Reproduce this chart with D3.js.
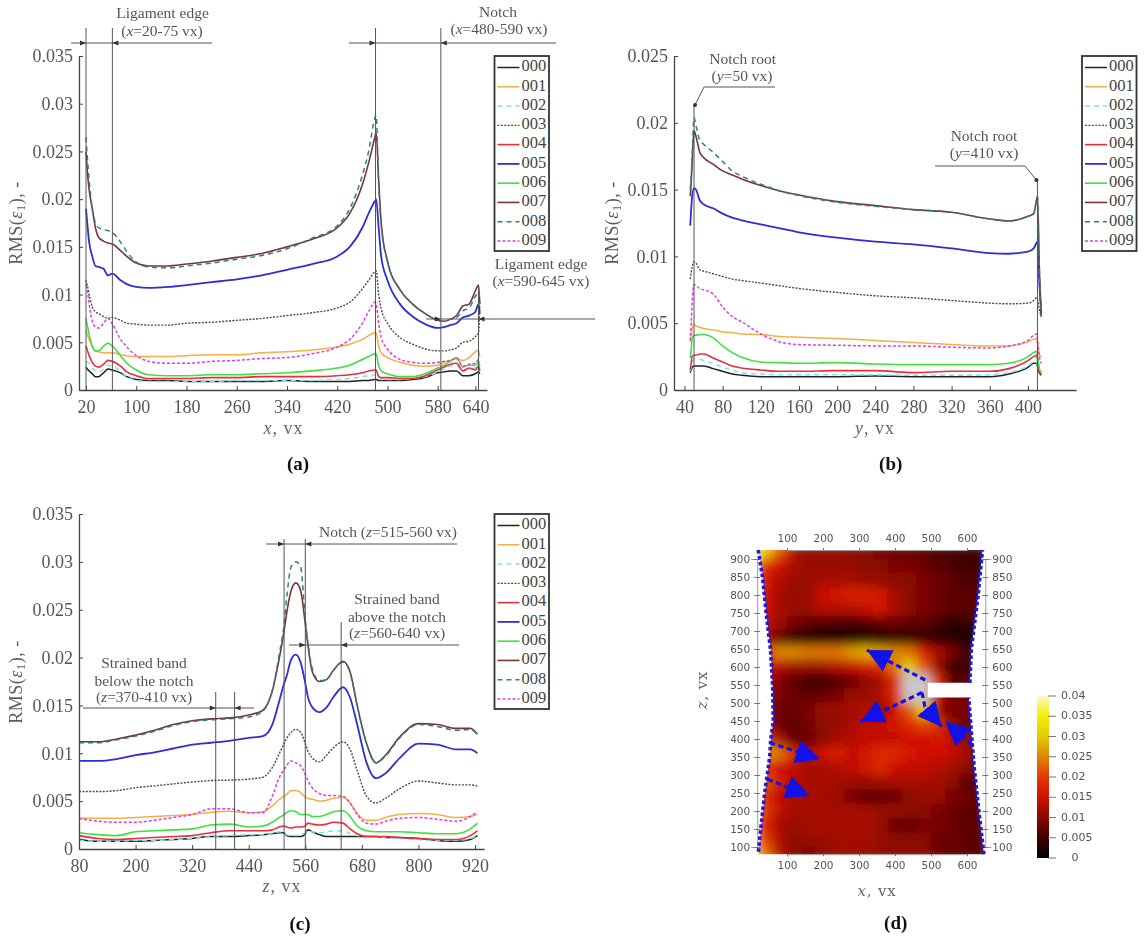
<!DOCTYPE html>
<html><head><meta charset="utf-8">
<script src="https://cdn.jsdelivr.net/npm/d3@7"></script>
<style>
html,body{margin:0;padding:0;background:#fff}
svg{display:block;filter:blur(0.6px)}
text{font-family:"Liberation Serif",serif;fill:#555}
</style></head><body>
<svg id="c" width="1148" height="940"></svg>
<script>
// strain values are stored in units of 1e-3
const seriesNames=["000","001","002","003","004","005","006","007","008","009"];
const seriesColors=["#222222","#f6ae45","#7fe3ea","#4a4a4a","#ee2c3c","#2e2ed6","#3fe03f","#7a3434","#2f7f7f","#e23ce2"];
const seriesDash=[null,null,"5 4","2 1.4",null,null,null,null,"5 4","3 2"];
const seriesWidth=[1.5,1.5,1.5,1.4,1.6,1.8,1.6,1.6,1.5,1.5];

const xA=[20,22,25,30,35,40,48,55,62,75,85,100,120,150,180,220,260,300,340,380,420,440,460,470,480,482,486,490,500,520,540,560,580,590,600,610,620,630,640,645,647];
const a000=[2.4,2.2,2,1.7,1.4,1.4,1.8,2.2,2.1,1.8,1.4,1.1,1,1,.9,.9,.9,.9,1,.9,.9,.9,1,1,1.1,1.1,1,1,1,1,1.1,1.3,1.8,1.9,2,2,1.5,1.5,1.7,1.9,1.7];
const a001=[6.2,5.8,5.3,4.5,4.1,4,3.9,3.9,3.9,3.7,3.6,3.5,3.5,3.5,3.6,3.7,3.7,3.9,4,4.2,4.5,4.8,5.3,5.7,6,6,4.6,3.9,3.4,2.9,2.6,2.5,2.6,2.9,3.1,3.3,3.1,3.4,4,4.2,3.5];
const a002=[3,2.9,2.8,2.3,2,1.9,2.2,2.6,2.5,2,1.4,1,.9,.9,.9,.9,1,1,1,1,1.1,1.2,1.4,1.5,1.6,1.6,1.2,1.1,1.1,1.1,1.2,1.4,1.9,2.2,2.5,2.6,2,2.2,2.3,2.6,2.2];
const a003=[11.5,11,10,8.7,8.2,8,7.7,7.5,7.6,7.3,7,6.9,6.8,6.8,7,7.1,7.3,7.5,7.8,8.1,8.6,9.2,10.6,11.5,12.4,12.5,10,8.5,7,5.5,4.8,4.3,4.1,4.1,4.2,4.4,5,5.1,5.6,6,9];
const a004=[4.6,4.2,3.6,2.9,2.5,2.4,2.7,3.1,3,2.5,1.9,1.5,1.2,1.2,1.2,1.3,1.3,1.4,1.4,1.4,1.5,1.6,1.8,2,2.1,2.1,1.4,1.3,1.3,1.2,1.2,1.5,2.1,2.4,2.7,2.8,2,2.3,2.1,2.5,2];
const a005=[19,17.5,15.5,14,13,12.9,12.7,12,12.2,11.5,11.1,10.8,10.7,10.8,11,11.3,11.6,12,12.6,13.2,14,15,17,18.5,19.8,20,17,14,11.5,9,7.7,6.9,6.5,6.6,6.8,7,7.6,7.8,8.2,9,8];
const a006=[7.5,6.8,5.8,4.6,4.1,4.1,4.6,4.9,4.6,3.6,2.8,2.1,1.6,1.5,1.5,1.6,1.6,1.7,1.8,2,2.3,2.6,3.2,3.5,3.8,3.8,2.5,2,1.7,1.4,1.4,1.7,2.3,2.6,3,3.4,2.4,2.6,2.6,3,2.5];
const a007=[25,23,21,19,17,16,15.6,15.4,15.3,14.6,14,13.3,13,13,13.2,13.5,13.9,14.3,15,15.8,17,18.5,21.5,23.8,26.5,27,22,17.5,13.5,10.5,9,8,7.3,7.2,7.4,7.8,8.8,9,10.4,11,9];
const a008=[26.5,24.5,22,19,17.5,17,16.8,16.7,16.5,15.5,14.5,13.4,12.9,12.8,13,13.3,13.7,14.1,14.8,15.9,17.2,19,22.5,25,28.5,28.8,21.5,17.3,13.5,10.5,9,8,7.3,7.2,7.4,7.6,8.3,8.6,9.8,10.3,9];
const a009=[11,10.5,9,7.2,6.6,6.5,7,7.5,6.9,5.3,4.5,3.6,3,2.8,2.8,3,3.1,3.3,3.4,3.8,4.5,5.3,7,8.2,9.2,9,7,5.5,4.3,3.2,2.9,2.8,2.9,3,3.1,3.3,2.5,2.7,2.8,3.2,3];

const xB=[46,47,48,50,52,56,60,70,80,90,100,120,140,160,200,240,280,320,360,380,400,406,409,410,412,414];
const b000=[1.3,1.5,1.7,1.8,1.8,1.8,1.8,1.6,1.4,1.2,1.1,1,1,1,1,1.05,1,1,1,1.2,1.7,2,2,1.8,1.3,1.1];
const b001=[3.6,4,4.5,4.9,4.8,4.7,4.6,4.5,4.35,4.3,4.2,4.15,4,3.95,3.85,3.7,3.55,3.4,3.3,3.3,3.6,3.8,3.8,3.5,2.6,2.5];
const b002=[1.4,1.7,2,2.3,2.3,2.3,2.2,2,1.7,1.5,1.3,1.2,1.15,1.15,1.15,1.15,1.1,1.1,1.15,1.3,1.8,2.1,2.1,1.9,1.5,1.3];
const b003=[8.3,8.8,9.2,9.6,9.5,9,8.9,8.7,8.5,8.3,8.2,8,7.8,7.6,7.3,7.05,6.9,6.7,6.5,6.45,6.5,6.7,6.9,6.8,6,5.5];
const b004=[1.5,2,2.5,2.6,2.6,2.7,2.7,2.4,2.1,1.8,1.65,1.5,1.4,1.4,1.45,1.45,1.3,1.4,1.4,1.6,2.2,2.5,2.6,2.3,1.4,1.2];
const b005=[12.3,13.5,14.5,15.1,15,14.2,13.9,13.6,13.2,12.9,12.7,12.4,12.1,11.8,11.4,11.1,10.9,10.6,10.25,10.2,10.35,10.6,11,11.1,8,5.8];
const b006=[2.4,3,3.8,4.1,4.1,4.15,4.15,3.9,3.3,2.8,2.45,2.1,2.05,2,2.05,1.95,1.9,1.9,1.9,2,2.5,2.8,2.9,2.6,1.6,1.3];
const b007=[14.5,15.5,17,19.4,19,17.8,17.4,16.9,16.4,16.1,15.8,15.3,14.9,14.6,14.1,13.8,13.5,13.3,12.8,12.65,13,13.2,14.2,14.5,9,5.5];
const b008=[15,16,17.5,20.4,19.8,18.7,18.4,17.8,17.1,16.4,16,15.4,14.9,14.55,14.05,13.75,13.5,13.3,12.8,12.65,13,13.2,14.2,14.5,9,5.5];
const b009=[3.7,5,6.5,7.9,7.8,7.6,7.5,7.2,6.2,5.5,5.1,4.2,3.6,3.4,3.35,3.3,3.3,3.2,3.15,3.3,3.7,4.1,4.2,3.8,2.5,2];

const xC=[80,120,160,200,240,280,320,360,400,440,470,490,505,515,520,530,540,550,560,565,575,590,605,620,640,655,670,690,710,730,760,800,840,880,910,925];
const c000=[1,.8,.8,.8,.9,1,1.1,1.3,1.3,1.4,1.5,1.6,1.7,1.7,1.4,1.3,1.3,1.3,1.6,2,1.8,1.5,1.3,1.3,1.3,1.3,1.3,1.3,1.3,1.2,1.2,1.1,.9,.8,1,1.4];
const c001=[3.2,3.2,3.2,3.3,3.4,3.5,3.6,3.85,3.95,3.8,3.9,4.5,5.2,5.5,5.7,6.1,6.1,5.9,5.4,5.3,5.2,5,5.1,5.3,5.4,4.8,3.7,3,3,3.3,3.6,3.7,3.6,3.3,3.4,3.6];
const c002=[.9,.8,.8,.9,.9,1,1.1,1.3,1.4,1.5,1.5,1.6,1.8,1.7,1.5,1.4,1.4,1.5,1.7,1.9,1.8,1.7,1.8,1.9,1.9,1.6,1.4,1.3,1.3,1.2,1.1,1,.9,.9,1.1,1.4];
const c003=[6,6,6.1,6.4,6.6,6.8,7,7.15,7.2,7.3,7.5,8.5,10,11,11.5,12.2,12.5,12.2,11,10.3,9.5,9.1,9.8,10.6,11.2,10.4,8.2,5.5,4.8,5.3,6.3,7.1,6.9,6.7,6.7,6.6];
const c004=[1.4,1.1,1,1.1,1.2,1.3,1.4,1.7,1.9,1.9,1.9,2,2.3,2.4,2.3,2.2,2.3,2.3,2.4,2.7,2.6,2.5,2.6,2.8,2.7,2.1,1.6,1.3,1.3,1.3,1.2,1.1,1,1,1.4,1.9];
const c005=[9.2,9.2,9.4,9.8,10.1,10.5,10.9,11.1,11.3,11.6,11.8,13,15.5,17.3,18,19.8,20.3,19.5,17.3,16,14.8,14.3,14.8,15.9,16.9,15.8,13,9,7.4,7.9,9.5,11,10.9,10.4,10.4,10];
const c006=[1.7,1.5,1.4,1.8,1.9,2,2.1,2.5,2.6,2.3,2.4,2.8,3.3,3.6,3.8,4,3.9,3.6,3.6,3.6,3.4,3.4,3.6,3.9,4,3.4,2.4,1.9,1.8,1.8,1.8,1.7,1.6,1.6,2.1,2.7];
const c007=[11.2,11.2,11.5,11.9,12.4,13,13.4,13.6,13.7,14,14.5,16.5,20,22.8,24.5,27,27.8,27,23.5,21.5,18.5,17.5,17.7,18.7,19.6,18.5,15,11,9,9.8,11.7,13.1,13,12.6,12.6,12];
const c008=[11.1,11.1,11.4,11.8,12.3,12.9,13.3,13.5,13.6,13.8,14.4,16.6,20.4,23.5,26,29.5,30,29.5,24,21.8,18.8,17.6,17.7,18.7,19.5,18.4,15,11,9,9.7,11.6,13,12.8,12.4,12.5,12];
const c009=[3.2,2.9,2.8,2.8,3,3.3,3.6,4.2,4.2,3.8,3.8,5.5,7.5,8.3,8.7,9.2,9,8.7,7.8,7.2,6.4,5.8,5.6,5.6,5.5,4.8,3.6,2.7,2.6,2.9,3.2,3.3,3.1,2.9,3.4,3.9];

const yTicksA=[0,5,10,15,20,25,30,35];
const yTicksB=[0,5,10,15,20,25];
const xTicksA=[20,100,180,260,340,420,500,580,640];
const xTicksB=[40,80,120,160,200,240,280,320,360,400];
const xTicksC=[80,200,320,440,560,680,800,920];

// map (d): columns are x vx, rows are z vx, values in 1e-3
const mapCols=[40,80,120,160,200,240,280,320,360,400,440,480,520,560,600,640];
const mapRows=[920,880,840,800,760,720,680,640,600,560,520,480,440,400,360,320,280,240,200,160,120,80];
const mapValues=[
[30,22,13,11,11,11,10,10,9,8,8,7,6,6,5,5],
[18,15,12,11,11,11,11,10,10,9,9,8,7,6,5,5],
[16,13,11,11,12,12,12,11,11,10,10,9,8,7,6,6],
[15,12,11,11,15,16,17,17,16,12,10,9,8,7,7,7],
[15,12,11,11,13,13,13,14,16,12,10,9,8,7,7,7],
[14,11,9,7,6,5,5,6,7,8,7,7,5,3,4,6],
[13,7,2,2,2,2,2,2,2,3,3,4,3,3,2,3],
[19,25,25,24,24,24,26,28,26,25,24,17,12,9,5,9],
[16,13,11,11,11,13,14,16,18,24,30,22,11,4,5,7],
[15,9,7,5,5,6,8,10,12,18,42,45,18,7,7,7],
[13,9,8,7,8,9,11,11,13,18,42,45,14,9,9,9],
[12,8,8,9,11,11,12,13,10,15,22,30,11,9,9,8],
[13,8,7,9,10,11,12,14,14,16,18,21,19,10,8,8],
[20,12,7,8,10,12,13,14,14,14,15,15,16,14,10,15],
[26,24,17,13,15,17,14,16,18,18,16,15,15,14,12,9],
[18,15,14,12,12,13,14,16,18,15,14,14,13,12,10,8],
[22,16,13,12,12,12,11,11,12,12,12,12,12,10,7,7],
[18,14,12,12,12,11,9,7,7,8,10,11,11,9,8,8],
[20,14,12,12,12,12,12,12,11,11,10,10,9,8,7,7],
[17,12,11,12,12,12,12,12,11,8,7,9,9,8,7,7],
[20,13,10,11,11,12,12,12,11,10,10,10,8,8,7,7],
[24,13,10,9,10,11,11,11,10,10,10,10,8,7,7,6]];
const colorStops=[0,5,10,15,20,25,30,35,40];
const colorValues=["#000000","#3f0000","#8a0800","#d01000","#e23a00","#dd8800","#e3cc00","#eef000","#fff8c8"];
const leftEdge=[[20,925],[32,850],[42,750],[54,650],[60,550],[62,450],[55,400],[52,350],[38,250],[27,150],[20,80]];
const rightLower=[[647,80],[633,200],[620,320],[612,420],[605,515]];
const rightUpper=[[608,556],[612,650],[631,800],[643,925]];
const notchTip=[[491,515],[491,556]];
const blueArrows=[
[[484,564],[322,647]],
[[475,529],[304,448]],
[[475,529],[483,490],[530,434]],
[[614,384],[540,448]],
[[52,390],[191,344]],
[[46,288],[163,242]]];
const mapTicksX=[100,200,300,400,500,600];
const mapTicksZ=[100,150,200,250,300,350,400,450,500,550,600,650,700,750,800,850,900];
const barTicks=[0,5,10,15,20,25,30,35,40];

const svg=d3.select("#c");
const defs=svg.append("defs");
const ink="#555";

function rich(sel,parts){
  parts.forEach(p=>{
    const t=sel.append("tspan").text(p[0]);
    if(p[1]==="i")t.attr("font-style","italic");
    if(p[1]==="s")t.attr("dy",4).attr("font-size","0.7em");
    if(p[1]==="u")t.attr("dy",-4);
  });
}
function txt(x,y,parts,size,opts={}){
  const t=svg.append("text").attr("x",x).attr("y",y).attr("font-size",size)
    .attr("text-anchor",opts.anchor||"middle").attr("dominant-baseline","middle");
  if(opts.rot!=null)t.attr("transform",`rotate(${opts.rot} ${x} ${y})`);
  if(opts.bold)t.attr("font-weight","bold").style("fill","#111");
  if(opts.ls)t.attr("letter-spacing",opts.ls);
  if(opts.family)t.style("font-family",opts.family);
  if(opts.fill)t.style("fill",opts.fill);
  rich(t,typeof parts==="string"?[[parts]]:parts);
  return t;
}
function seg(x1,y1,x2,y2,c=ink,w=1){
  svg.append("line").attr("x1",x1).attr("y1",y1).attr("x2",x2).attr("y2",y2).attr("stroke",c).attr("stroke-width",w);
}
function arrow(x,y,dir){
  svg.append("path").attr("d",`M${x},${y}L${x-dir*6},${y-2.5}L${x-dir*6},${y+2.5}Z`).attr("fill","#333");
}
function legend(x0,y0){
  const g=svg.append("g");
  g.append("rect").attr("x",x0).attr("y",y0).attr("width",54.5).attr("height",195).attr("fill","#fff").attr("stroke","#333").attr("stroke-width",1.8);
  const r=d3.scalePoint().domain(seriesNames).range([y0+11.5,y0+185]);
  seriesNames.forEach((n,i)=>{
    const l=g.append("line").attr("x1",x0+3).attr("x2",x0+25).attr("y1",r(n)).attr("y2",r(n))
      .attr("stroke",seriesColors[i]).attr("stroke-width",seriesWidth[i]);
    if(seriesDash[i])l.attr("stroke-dasharray",seriesDash[i]);
    g.append("text").attr("x",x0+27).attr("y",r(n)).attr("dominant-baseline","middle").attr("font-size",16.5).text(n).style("fill","#444");
  });
}
function panel(o){
  const x=d3.scaleLinear().domain(o.xd).range(o.xr);
  const y=d3.scaleLinear().domain(o.yd).range(o.yr);
  const line=d3.line().x((d,i)=>x(o.xs[i])).y(d=>y(d)).curve(d3.curveMonotoneX);
  const g=svg.append("g");
  o.series.forEach((s,i)=>{
    const p=g.append("path").attr("d",line(s)).attr("fill","none").attr("stroke",seriesColors[i]).attr("stroke-width",seriesWidth[i]);
    if(seriesDash[i])p.attr("stroke-dasharray",seriesDash[i]);
  });
  const ax=svg.append("g").attr("transform",`translate(0,${o.yr[0]})`).call(d3.axisBottom(x).tickValues(o.xt).tickSizeInner(-4).tickSizeOuter(0).tickPadding(14).tickFormat(d=>d));
  const ay=svg.append("g").attr("transform",`translate(${o.xr[0]},0)`).call(d3.axisLeft(y).tickValues(o.yt).tickSizeInner(-4).tickSizeOuter(0).tickPadding(6).tickFormat(d=>d/1000));
  [ax,ay].forEach(a=>{
    a.selectAll("path").attr("stroke","#444").attr("stroke-width",1.3);
    a.selectAll("line").attr("stroke","#444").attr("stroke-width",1);
    a.selectAll("text").attr("font-size",18).style("font-family",'"Liberation Serif",serif').style("fill","#555");
  });
  ax.selectAll("text").attr("dy","0.5em");
  return {x,y};
}
function yLabel(x,y){
  txt(x,y,[["RMS("],["ε","i"],["1","s"],["),","u"],[" -"]],18,{rot:-90,ls:0.5,fill:"#5c5c5c"});
}

// ----- panel a
const pa=panel({xd:[8.85,658.5],xr:[79,487],yd:[0,35],yr:[390,56],xs:xA,xt:xTicksA,yt:yTicksA,
  series:[a000,a001,a002,a003,a004,a005,a006,a007,a008,a009]});
legend(494.5,56);
yLabel(17.5,223);
txt(283.6,430,[["x","i"],[", vx"]],18,{ls:1,fill:"#666"});
[[20,28],[62,28],[481,28],[585,28],[645,287]].forEach(d=>seg(pa.x(d[0]),d[1],pa.x(d[0]),390,"#555",1));
seg(71,43,212,43);seg(349,43,556,43);seg(426,319,595,319);
arrow(pa.x(20),43,1);arrow(pa.x(62),43,-1);arrow(pa.x(481),43,1);arrow(pa.x(585),43,-1);arrow(pa.x(585),319,1);arrow(pa.x(645),319,-1);
txt(162.5,14,"Ligament edge",15.5);
txt(162,32,[["("],["x","i"],["=20-75 vx)"]],15.5);
txt(498,13,"Notch",15.5);
txt(499,30,[["("],["x","i"],["=480-590 vx)"]],15.5);
txt(541,265,"Ligament edge",15.5);
txt(541,282,[["("],["x","i"],["=590-645 vx)"]],15.5);

// ----- panel b
const pb=panel({xd:[29,450.4],xr:[674,1076],yd:[0,25],yr:[390,56],xs:xB,xt:xTicksB,yt:yTicksB,
  series:[b000,b001,b002,b003,b004,b005,b006,b007,b008,b009]});
legend(1082,56);
yLabel(613.6,223);
txt(875,430,[["y","i"],[", vx"]],18,{ls:1,fill:"#666"});
seg(pb.x(50),105,pb.x(50),390);seg(pb.x(410),180,pb.x(410),390);
svg.append("path").attr("d",d3.line()([[pb.x(50)+1,105],[704,87],[775,87]])).attr("fill","none").attr("stroke",ink);
svg.append("path").attr("d",d3.line()([[pb.x(410)-1,180],[1025,166],[935,166]])).attr("fill","none").attr("stroke",ink);
svg.append("circle").attr("cx",pb.x(50)+1).attr("cy",105).attr("r",2).attr("fill","#333");
svg.append("circle").attr("cx",pb.x(410)-1).attr("cy",180).attr("r",2).attr("fill","#333");
txt(742.7,60,"Notch root",15.5);
txt(742,77,[["("],["y","i"],["=50 vx)"]],15.5);
txt(984,137,"Notch root",15.5);
txt(984,154,[["("],["y","i"],["=410 vx)"]],15.5);

// ----- panel c
const pc=panel({xd:[80,939],xr:[79,484],yd:[0,35],yr:[849,514],xs:xC,xt:xTicksC,yt:yTicksA,
  series:[c000,c001,c002,c003,c004,c005,c006,c007,c008,c009]});
legend(494.5,514);
yLabel(17.5,682);
txt(282,888,[["z","i"],[", vx"]],18,{ls:1,fill:"#666"});
[[370,692],[410,692],[515,539],[560,539],[636,622]].forEach(d=>seg(pc.x(d[0]),d[1],pc.x(d[0]),849));
seg(266,544,457,544);seg(289,645,459,645);seg(83,708,254,708);
arrow(pc.x(515),544,1);arrow(pc.x(560),544,-1);arrow(pc.x(560),645,1);arrow(pc.x(636),645,-1);arrow(pc.x(370),708,1);arrow(pc.x(410),708,-1);
txt(388,533,[["Notch ("],["z","i"],["=515-560 vx)"]],15.5);
txt(397,600,"Strained band",15.5);
txt(397,617.5,"above the notch",15.5);
txt(397,634,[["("],["z","i"],["=560-640 vx)"]],15.5);
txt(144,664,"Strained band",15.5);
txt(144,682,"below the notch",15.5);
txt(144,698,[["("],["z","i"],["=370-410 vx)"]],15.5);

// ----- panel d
const mx=d3.scaleLinear().domain([100,600]).range([787,967]);
const mz=d3.scaleLinear().domain([100,900]).range([847,559]);
const colorOf=d3.scaleLinear().domain(colorStops).range(colorValues).clamp(true);
const cellColor=v=>v>40?"#c9c9c9":colorOf(v);
const cw=mx(40)-mx(0), ch=mz(0)-mz(40);
const pt=d=>[mx(d[0]),mz(d[1])];
const outline=[...leftEdge,...rightLower,...notchTip,...rightUpper];
defs.append("clipPath").attr("id","spec").append("path").attr("d",d3.line()(outline.map(pt))+"Z");
const fl=defs.append("filter").attr("id","soft").attr("filterUnits","userSpaceOnUse").attr("x",700).attr("y",500).attr("width",340).attr("height",400);
fl.append("feGaussianBlur").attr("stdDeviation",5.5);
const mapG=svg.append("g").attr("clip-path","url(#spec)").append("g").attr("filter","url(#soft)");
mapRows.forEach((z,r)=>mapCols.forEach((c,k)=>{
  mapG.append("rect").attr("x",mx(c)-cw/2-0.3).attr("y",mz(z)-ch/2-0.3).attr("width",cw+0.6).attr("height",ch+0.6).attr("fill",cellColor(mapValues[r][k]));
}));
// map axes
const gAxisLeft=mx(20)-1, gAxisRight=mx(648)+1, gTop=mz(925), gBot=mz(80);
const axTop=svg.append("g").attr("transform",`translate(0,${gTop})`).call(d3.axisTop(mx).tickValues(mapTicksX).tickSize(2).tickPadding(6));
const axBot=svg.append("g").attr("transform",`translate(0,${gBot})`).call(d3.axisBottom(mx).tickValues(mapTicksX).tickSize(2).tickPadding(5));
const axL=svg.append("g").attr("transform",`translate(${gAxisLeft},0)`).call(d3.axisLeft(mz).tickValues(mapTicksZ).tickSize(6).tickPadding(1));
const axR=svg.append("g").attr("transform",`translate(${gAxisRight},0)`).call(d3.axisRight(mz).tickValues(mapTicksZ).tickSize(6).tickPadding(1));
[axTop,axBot,axL,axR].forEach(a=>{
  a.selectAll("path").attr("stroke","#999").attr("stroke-width",1);
  a.selectAll("line").attr("stroke","#777");
  a.selectAll("text").attr("font-size",10.5).style("font-family",'"DejaVu Sans",sans-serif').style("fill","#555");
});
axL.selectAll("line").attr("transform","translate(3,0)");
axR.selectAll("line").attr("transform","translate(-3,0)");
// blue specimen outline and arrows
const blueLine=d3.line().x(d=>mx(d[0])).y(d=>mz(d[1]));
[leftEdge,rightLower,rightUpper].forEach(e=>{
  svg.append("path").attr("d",blueLine(e)).attr("fill","none").attr("stroke","#1a1ae0").attr("stroke-width",3.6).attr("stroke-dasharray","3.5 2.5");
});
const mk=defs.append("marker").attr("id","bh").attr("markerUnits","userSpaceOnUse").attr("markerWidth",26).attr("markerHeight",26)
  .attr("refX",24).attr("refY",12).attr("orient","auto");
mk.append("path").attr("d","M0,0L24,12L0,24Z").attr("fill","#1212e6");
blueArrows.forEach(a=>{
  svg.append("path").attr("d",blueLine(a)).attr("fill","none").attr("stroke","#1212e6").attr("stroke-width",3.2)
    .attr("stroke-dasharray","5.5 3.5").attr("marker-end","url(#bh)");
});
txt(877,892,[["x","i"],[", vx"]],15,{family:'"DejaVu Serif",serif',fill:"#666",ls:0.8});
txt(703,690,[["z","i"],[", vx"]],15,{family:'"DejaVu Serif",serif',rot:-90,fill:"#666",ls:0.8});

// colour bar
const by=d3.scaleLinear().domain([0,40]).range([858,696]);
const grad=defs.append("linearGradient").attr("id","cbar").attr("x1",0).attr("x2",0).attr("y1",1).attr("y2",0);
colorStops.forEach((s,i)=>grad.append("stop").attr("offset",s/40).attr("stop-color",colorValues[i]));
grad.append("stop").attr("offset",1).attr("stop-color","#ffffff");
svg.append("rect").attr("x",1037).attr("y",by(40)).attr("width",12).attr("height",by(0)-by(40)).attr("fill","url(#cbar)");
barTicks.forEach(t=>{
  seg(1048,by(t),1056,by(t),"#777",1);
  if(t===0) txt(1075,by(t),"0",11,{family:'"DejaVu Sans",sans-serif'});
  else txt(1061,by(t),String(t/1000),11,{family:'"DejaVu Sans",sans-serif',anchor:"start"});
});

// sub-figure letters
txt(298,466,"(a)",19,{bold:true});
txt(890.7,466,"(b)",19,{bold:true});
txt(300,926,"(c)",19,{bold:true});
txt(895.7,925,"(d)",19,{bold:true});
</script>
</body></html>
